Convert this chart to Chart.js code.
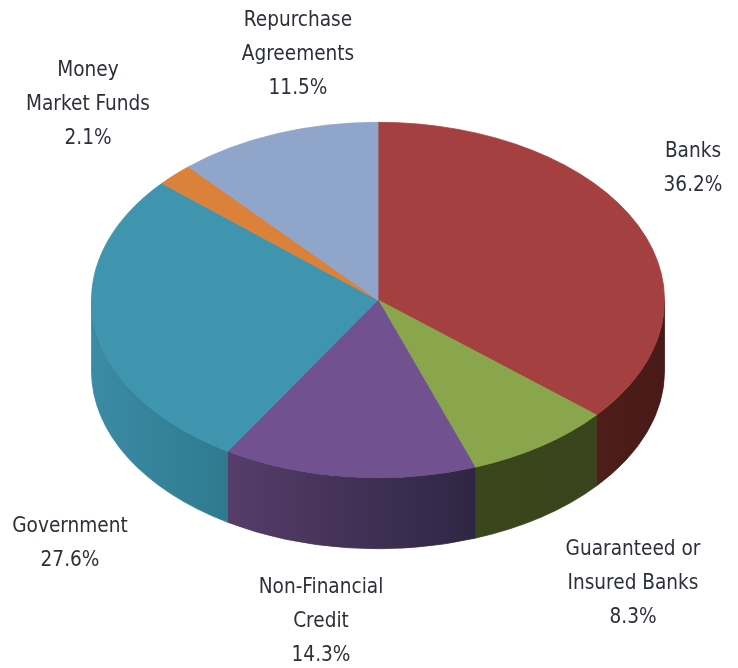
<!DOCTYPE html>
<html>
<head>
<meta charset="utf-8">
<title>Pie</title>
<style>
    body { margin: 0; background: #fff; }
    canvas { display: block; }
</style>
<script src="https://cdn.jsdelivr.net/npm/chart.js@4/dist/chart.umd.min.js"></script>
</head>
<body>
<canvas id="grafico" width="738" height="668"></canvas>
<script>
const categories = ['Banks', 'Guaranteed or Insured Banks', 'Non-Financial Credit', 'Government', 'Money Market Funds', 'Repurchase Agreements'];
const shares = [36.2, 8.3, 14.3, 27.6, 2.1, 11.5];
const labelLines = [
    ['Banks'],
    ['Guaranteed or', 'Insured Banks'],
    ['Non-Financial', 'Credit'],
    ['Government'],
    ['Money', 'Market Funds'],
    ['Repurchase', 'Agreements']
];
const topColors = ['#a44140', '#8aa64d', '#71518f', '#3f94ae', '#dc8139', '#8fa5ca'];
// left and right colour of the side wall under each slice
const wallColors = [
    ['#4f1d1a', '#481a17'],
    ['#3a461c', '#3a441c'],
    ['#563d6b', '#2e2643'],
    ['#3b8ba5', '#2f7a8f'],
    ['#3c8ca6', '#3c8ca6'],
    ['#6f86a8', '#6f86a8']
];

const squash = 178 / 287;  // tilt of the disc
const depth = 71;          // height of the side wall
const lineGap = 34;
const labelPos = [
    [693, 152], [633, 550], [321, 588], [70, 527], [88, 71], [298, 21]
];

function arcAt(ctx, x, y, r, a0, a1, back) {
    ctx.ellipse(x, y, r, r * squash, 0, a0, a1, back);
}

const disc3d = {
    id: 'disc3d',
    beforeDatasetsDraw(chart) {
        const ctx = chart.ctx;
        const arcs = chart.getDatasetMeta(0).data;

        // side wall, only the front half of the disc shows
        arcs.forEach((el, i) => {
            const a0 = Math.max(el.startAngle, 0);
            const a1 = Math.min(el.endAngle, Math.PI);
            if (a1 <= a0) return;
            const r = el.outerRadius;
            const xa = el.x + r * Math.cos(a0);
            const xb = el.x + r * Math.cos(a1);
            const grad = ctx.createLinearGradient(Math.min(xa, xb), 0, Math.max(xa, xb), 0);
            grad.addColorStop(0, wallColors[i][0]);
            grad.addColorStop(1, wallColors[i][1]);
            ctx.beginPath();
            arcAt(ctx, el.x, el.y, r, a0, a1, false);
            arcAt(ctx, el.x, el.y + depth, r, a1, a0, true);
            ctx.closePath();
            ctx.fillStyle = grad;
            ctx.fill();
            // closes the hairline between neighbouring walls
            ctx.strokeStyle = grad;
            ctx.lineWidth = 0.8;
            ctx.stroke();
        });

        // the slices themselves get flattened into an ellipse
        const first = arcs[0];
        ctx.save();
        ctx.translate(first.x, first.y);
        ctx.scale(1, squash);
        ctx.translate(-first.x, -first.y);
    },
    afterDatasetsDraw(chart) {
        const ctx = chart.ctx;
        ctx.restore();

        ctx.save();
        ctx.font = '20.6px "DejaVu Sans Condensed", "DejaVu Sans"';
        ctx.fillStyle = '#2c3038';
        ctx.textAlign = 'center';
        ctx.textBaseline = 'middle';
        labelLines.forEach((lines, i) => {
            const [x, y] = labelPos[i];
            lines.concat(shares[i].toFixed(1) + '%').forEach((txt, n) => {
                ctx.fillText(txt, x, y + n * lineGap);
            });
        });
        ctx.restore();
    }
};

const data = {
    labels: categories,
    datasets: [{
        data: shares,
        backgroundColor: topColors,
        borderColor: topColors,
        borderWidth: 1
    }]
};

const config = {
    type: 'pie',
    data,
    options: {
        responsive: false,
        animation: false,
        layout: { padding: { left: 91, right: 73, top: 13, bottom: 81 } },
        plugins: {
            legend: { display: false },
            tooltip: { enabled: false }
        }
    },
    plugins: [disc3d]
};

const myChart = new Chart(document.getElementById('grafico'), config);
</script>
</body>
</html>
